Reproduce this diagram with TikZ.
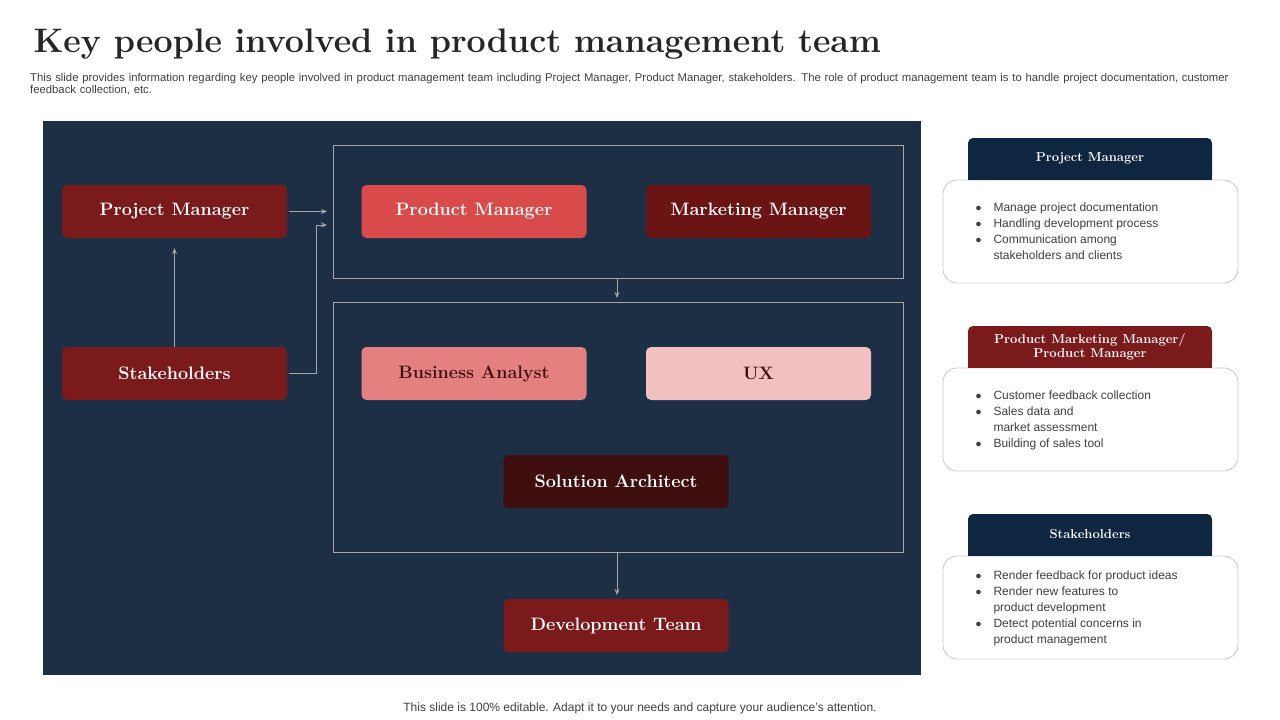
\documentclass[tikz,border=0pt]{standalone}
\usepackage{fontspec}
\setsansfont{Liberation Sans}
\usetikzlibrary{arrows.meta,positioning}
\definecolor{panel}{HTML}{1C2F45}
\definecolor{navy}{HTML}{0F2640}
\definecolor{wine}{HTML}{7B1A1A}
\definecolor{redbox}{HTML}{D94A4A}
\definecolor{darkwine}{HTML}{6B1414}
\definecolor{pinkbox}{HTML}{E58080}
\definecolor{lightpink}{HTML}{F2C0C0}
\definecolor{deepwine}{HTML}{3F0F0F}
\definecolor{txtgray}{HTML}{404040}
\tikzset{>=Stealth,
  role node/.style={rounded corners=5pt,minimum width=225pt,minimum height=53pt,inner sep=0pt,font=\rmfamily\bfseries\fontsize{18}{20}\selectfont,text=white},
  frame/.style={draw=gray!70,line width=0.8pt},
  link/.style={draw=gray!70,line width=0.8pt,-{Stealth[length=6pt,width=5pt]}},
  tab/.style={rounded corners=5pt,minimum width=244pt,minimum height=41pt,inner sep=0pt,text=white,font=\rmfamily\bfseries\fontsize{13}{14}\selectfont,align=center},
  card/.style={draw=gray!40,fill=white,rounded corners=14pt,line width=0.8pt},
  bullets/.style={anchor=north west,font=\sffamily\fontsize{12}{16}\selectfont,text=txtgray,align=left}}
\begin{document}
\begin{tikzpicture}[x=1pt,y=-1pt]
    \useasboundingbox[fill=white] (0,0) rectangle (1280,720);
    \node[anchor=west,font=\rmfamily\bfseries\fontsize{34}{38}\selectfont,text=black!85] (title) at (30,44) {Key people involved in product management team};
    \node[anchor=north west,font=\sffamily\fontsize{11.3}{12.5}\selectfont,text=txtgray,text width=1205pt,align=left,inner sep=0pt] (sub) at (30,73) {This slide provides information regarding key people involved in product management team including Project Manager, Product Manager, stakeholders. The role of product management team is to handle project documentation, customer feedback collection, etc.};
    \fill[panel] (43,121) rectangle (921,675);
    \draw[frame] (333,145) rectangle (903,278);
    \draw[frame] (333,302) rectangle (903,552);
    % roles
    \node[role node,fill=wine] (pm) at (174.5,211.5) {Project Manager};
    \node[role node,fill=redbox] (prm) at (474,211.5) {Product Manager};
    \node[role node,fill=darkwine] (mm) at (758.5,211.5) {Marketing Manager};
    \node[role node,fill=wine] (sh) at (174.5,373.5) {Stakeholders};
    \node[role node,fill=pinkbox,text=deepwine] (ba) at (474,373.5) {Business Analyst};
    \node[role node,fill=lightpink,text=deepwine] (ux) at (758.5,373.5) {UX};
    \node[role node,fill=deepwine] (sa) at (616,481.5) {Solution Architect};
    \node[role node,fill=wine] (dt) at (616,625.5) {Development Team};
    \coordinate (tin) at (327,211.5);
    \coordinate (sin) at (327,225);
    \coordinate (topout) at (617,278);
    \coordinate (midin) at (617,298);
    \coordinate (botout) at (617,552);
    \coordinate (devin) at (617,595);
    \draw[link] (pm.east) ++(2,0) -- (tin);
    \draw[link] (sh.east) ++(2,0) -| (316,225) -- (sin);
    \draw[link] (sh.north) -- ([yshift=-10pt]pm.south);
    \draw[link] (topout) -- (midin);
    \draw[link] (botout) -- (devin);
    % right cards
    \draw[card] (943,180) rectangle (1238,283);
    \fill[navy] (968,165) rectangle (1212,180);
    \node[tab,fill=navy] (t1) at (1090,158.5) {Project Manager};
    \node[bullets] (b1) at (972,199) {$\bullet$\quad Manage project documentation\\$\bullet$\quad Handling development process\\$\bullet$\quad Communication among\\\phantom{$\bullet$\quad }stakeholders and clients};
    \draw[card] (943,368) rectangle (1238,471);
    \fill[wine] (968,353) rectangle (1212,368);
    \node[tab,fill=wine] (t2) at (1090,346.5) {Product Marketing Manager/\\Product Manager};
    \node[bullets] (b2) at (972,387) {$\bullet$\quad Customer feedback collection\\$\bullet$\quad Sales data and\\\phantom{$\bullet$\quad }market assessment\\$\bullet$\quad Building of sales tool};
    \draw[card] (943,556) rectangle (1238,659);
    \fill[navy] (968,541) rectangle (1212,556);
    \node[tab,fill=navy] (t3) at (1090,534.5) {Stakeholders};
    \node[bullets] (b3) at (972,567) {$\bullet$\quad Render feedback for product ideas\\$\bullet$\quad Render new features to\\\phantom{$\bullet$\quad }product development\\$\bullet$\quad Detect potential concerns in\\\phantom{$\bullet$\quad }product management};
    \node[font=\sffamily\fontsize{12}{14}\selectfont,text=txtgray] (foot) at (640,708) {This slide is 100\% editable. Adapt it to your needs and capture your audience's attention.};
\end{tikzpicture}
\end{document}
